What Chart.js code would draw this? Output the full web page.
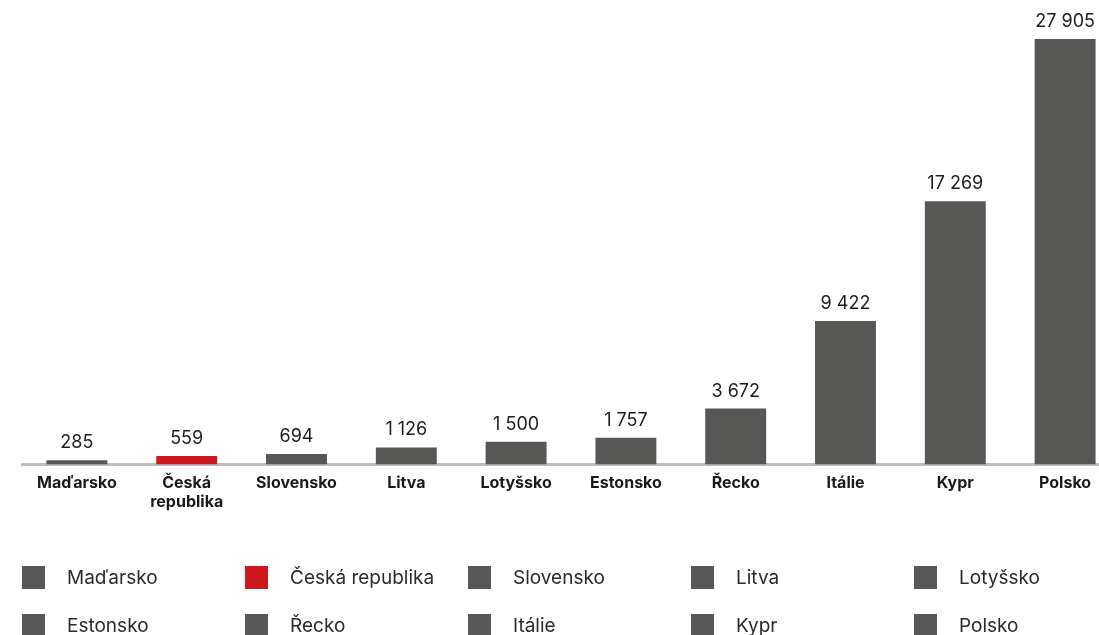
<!DOCTYPE html>
<html>
<head>
<meta charset="utf-8">
<script src="https://cdn.jsdelivr.net/npm/chart.js"></script>
<style>
  html,body{margin:0;padding:0;background:#fff;overflow:hidden}
  #wrap{position:relative;width:1120px;height:635px}
</style>
</head>
<body>
<div id="wrap"><canvas id="canvas"></canvas></div>
<script>
// data
const countries = ['Maďarsko','Česká republika','Slovensko','Litva','Lotyšsko','Estonsko','Řecko','Itálie','Kypr','Polsko'];
const values = [285,559,694,1126,1500,1757,3672,9422,17269,27905];
const highlight = 'Česká republika';

const GREY = '#575756';
const RED = '#cc181e';
const FONT = 'Inter, "Open Sans", sans-serif';

let colors = countries.map(c=>c===highlight?RED:GREY);
let tickLabels = countries.map(c=>c===highlight?c.split(' '):c);

function fmt(v) {
    return String(v).replace(/\B(?=(\d{3})+(?!\d))/g,' ');
}

// value labels above the bars
const valueLabels = {
    id:'valueLabels',
    afterDatasetsDraw(chart) {
        let ctx = chart.ctx;
        let meta = chart.getDatasetMeta(0);
        ctx.save();
        ctx.font = '18px '+FONT;
        ctx.fillStyle = '#1e1e1e';
        ctx.textAlign = 'center';
        ctx.textBaseline = 'alphabetic';
        meta.data.forEach((bar,i)=>{
            ctx.fillText(fmt(values[i]),bar.x,bar.y-12);
        });
        ctx.restore();
    }
};

// legend laid out as a 5-column grid below the chart
const gridLegend = {
    id:'gridLegend',
    afterDraw(chart) {
        let ctx = chart.ctx;
        ctx.save();
        ctx.font = '19px '+FONT;
        ctx.textBaseline = 'middle';
        ctx.textAlign = 'left';
        countries.forEach((c,i)=>{
            let col = i%5, row = Math.floor(i/5);
            let x = 22+col*223, y = 566+row*48;
            ctx.fillStyle = colors[i];
            ctx.fillRect(x,y,23,23);
            ctx.fillStyle = '#2b2b2b';
            ctx.fillText(c,x+45,y+12);
        });
        ctx.restore();
    }
};

new Chart(document.getElementById('canvas'),{
    type:'bar',
    data:{
        labels:tickLabels,
        datasets:[{
            data:values,
            backgroundColor:colors,
            borderWidth:0,
            categoryPercentage:1,
            barPercentage:0.555
        }]
    },
    options:{
        responsive:true,
        maintainAspectRatio:false,
        animation:false,
        layout:{padding:{top:7,bottom:114,left:22,right:0}},
        plugins:{legend:{display:false},tooltip:{enabled:false}},
        scales:{
            x:{
                grid:{display:false,drawTicks:false},
                border:{display:true,color:'#bdbdbd',width:3},
                ticks:{
                    color:'#1a1a1a',
                    font:{family:FONT,size:16,weight:'bold',lineHeight:1.2},
                    padding:9,
                    maxRotation:0,
                    autoSkip:false
                }
            },
            y:{
                display:false,
                min:0,
                max:30000
            }
        }
    },
    plugins:[valueLabels,gridLegend]
});
</script>
</body>
</html>
